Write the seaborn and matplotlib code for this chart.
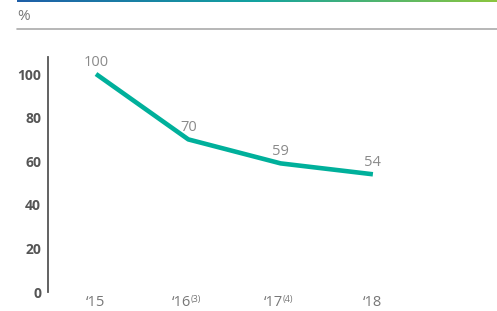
import numpy as np
import pandas as pd
import seaborn as sns
from matplotlib import pyplot as plt
from matplotlib.colors import LinearSegmentedColormap
from matplotlib.transforms import ScaledTranslation, blended_transform_factory

sns.set_theme(style="white")
plt.rcParams['font.family'] = ['Open Sans', 'DejaVu Sans']

# Datos del grafico
years = ["‘15", "‘16", "‘17", "‘18"]
notes = ["", "(3)", "(4)", ""]
values = [100, 70, 59, 54]
yticks = [0, 20, 40, 60, 80, 100]

df = pd.DataFrame({"pos": range(len(years)), "value": values})

W, H = 497, 311
fig = plt.figure(figsize=(W / 100, H / 100), dpi=100)

# Barra de gradiente superior
grad = fig.add_axes([17 / W, (H - 2) / H, (W - 17) / W, 2 / H])
cmap = LinearSegmentedColormap.from_list("g", ["#1f5fa8", "#13a3a0", "#8cc63f"])
grad.imshow(np.linspace(0, 1, 256)[None, :], aspect="auto", cmap=cmap)
grad.axis("off")

# Unidad y linea gris
fig.text(17 / W, (H - 16) / H, "%", color="#777777", fontsize=11, va="center", ha="left")
fig.add_artist(plt.Line2D([17 / W, 1], [(H - 29) / H] * 2, color="#aaaaaa", lw=1.2))

ax = fig.add_axes([48 / W, 19 / H, (W - 48) / W, 235 / H])
sns.lineplot(data=df, x="pos", y="value", ax=ax, color="#00b09b", lw=3.3,
             solid_capstyle="butt")

for x, v in zip(df["pos"], df["value"]):
    ax.annotate(str(v), (x, v), xytext=(0, 3), textcoords="offset points",
                ha="center", va="bottom", color="#8a8a8a", fontsize=10.5)

ax.set_xlim(-0.52, (W - 96) / 92.3)
ax.set_ylim(0, 107.8)
ax.set_yticks(yticks)
ax.set_yticklabels([str(t) for t in yticks], fontweight="bold", color="#555555", fontsize=10)
ax.set_xticks(df["pos"])
ax.set_xticklabels(years, color="#777777", fontsize=10.5)
ax.tick_params(axis="both", length=0)
ax.tick_params(axis="y", pad=5)
ax.tick_params(axis="x", pad=2)
ax.set_xlabel("")
ax.set_ylabel("")

# Notas al pie en superindice
trans = blended_transform_factory(ax.transData, ax.transAxes)
for lab, x, n in zip(ax.get_xticklabels(), df["pos"], notes):
    if n:
        lab.set_transform(lab.get_transform() + ScaledTranslation(-5 / 72, 0, fig.dpi_scale_trans))
        ax.annotate(n, (x, 0), xycoords=trans, xytext=(1.8, -2.5), textcoords="offset points",
                    ha="left", va="top", color="#777777", fontsize=6.5)

for s in ["top", "right", "bottom"]:
    ax.spines[s].set_visible(False)
ax.spines["left"].set_color("#555555")
ax.spines["left"].set_linewidth(1.3)
ax.patch.set_alpha(0)

fig.savefig("out.png", dpi=100)
